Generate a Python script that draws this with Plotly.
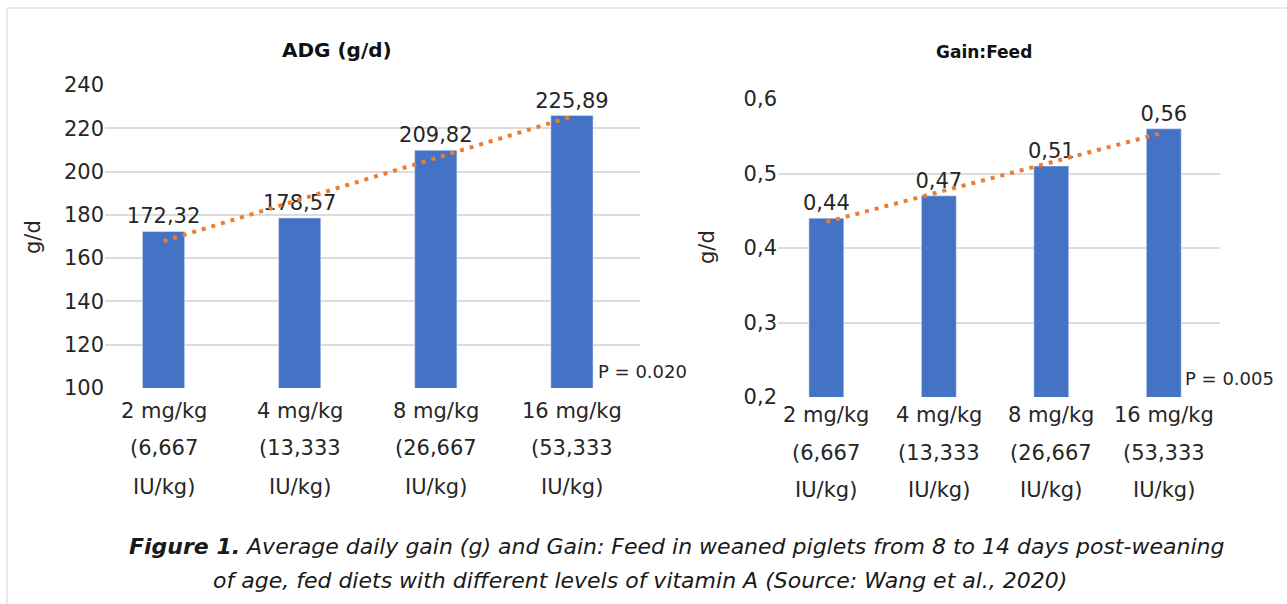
import numpy as np
import plotly.graph_objects as go

# Vitamin A levels (three label lines per category)
dose_mg = ["2 mg/kg", "4 mg/kg", "8 mg/kg", "16 mg/kg"]
dose_iu = ["(6,667", "(13,333", "(26,667", "(53,333"]
iu_unit = ["IU/kg)", "IU/kg)", "IU/kg)", "IU/kg)"]

# Measured responses
adg = [172.32, 178.57, 209.82, 225.89]
gain_feed = [0.44, 0.47, 0.51, 0.56]

p_adg = "P = 0.020"
p_gf = "P = 0.005"

W, H = 1287, 604
BAR = "#4472C4"
TREND = "#ED7D31"
GRID = "#DCDCDC"
TXT = "#262626"
FONT = "DejaVu Sans"


def py(pix):
    """pixel row -> paper y"""
    return 1 - pix / H


def px(pix):
    return pix / W


fig = go.Figure()

cats = list(range(len(dose_mg)))

# bars with value labels
for vals, xa, ya in [(adg, "x", "y"), (gain_feed, "x2", "y2")]:
    fig.add_trace(go.Bar(x=cats, y=vals, marker_color=BAR, width=0.31,
                         texttemplate="%{y:.2f}", textposition="outside",
                         constraintext="none",
                         textfont=dict(size=21, color=TXT, family=FONT),
                         cliponaxis=False, xaxis=xa, yaxis=ya, showlegend=False))

# linear trend lines
for vals, xa, ya in [(adg, "x", "y"), (gain_feed, "x2", "y2")]:
    k, b = np.polyfit(np.array(cats) + 1, vals, 1)
    fit = [k * (c + 1) + b for c in cats]
    fig.add_trace(go.Scatter(x=cats, y=fit, mode="lines",
                             line=dict(color=TREND, width=4, dash="4px,6px"),
                             xaxis=xa, yaxis=ya, showlegend=False, cliponaxis=False))

xcommon = dict(showline=False, zeroline=False, ticks="", showgrid=False,
               showticklabels=False, automargin=False, range=[-0.43, 3.5])
ycommon = dict(showline=False, zeroline=False, ticks="", automargin=False,
               gridcolor=GRID, gridwidth=1.5,
               tickfont=dict(size=21, color=TXT, family=FONT))

fig.update_layout(
    width=W, height=H, autosize=False,
    margin=dict(l=0, r=0, t=0, b=0, pad=0, autoexpand=False),
    paper_bgcolor="white", plot_bgcolor="white",
    separators=",.",
    xaxis=dict(domain=[px(105), px(640)], anchor="y", **xcommon),
    yaxis=dict(domain=[py(388), py(85)], range=[100, 240], dtick=20, anchor="x", **ycommon),
    xaxis2=dict(domain=[px(778), px(1220)], anchor="y2", **xcommon),
    yaxis2=dict(domain=[py(397), py(99)], range=[0.2, 0.6], dtick=0.1, anchor="x2", **ycommon),
)


def note(x, y, text, size, xanchor="center", angle=0, color=TXT, xref="paper"):
    return dict(x=x, y=py(y), xref=xref, yref="paper", text=text, textangle=angle,
                showarrow=False, xanchor=xanchor, yanchor="middle",
                font=dict(size=size, color=color, family=FONT))


ann = []
# category labels, three lines each
for xa, rows in [("x", (411, 448, 487)), ("x2", (415, 453, 490))]:
    for c in cats:
        for text, row in zip((dose_mg[c], dose_iu[c], iu_unit[c]), rows):
            ann.append(note(c, row, text, 21, xref=xa))

# chart titles
ann.append(note(px(337), 50, "<b>ADG (g/d)</b>", 20, color="#111"))
ann.append(note(px(984), 52, "<b>Gain:Feed</b>", 17, color="#111"))

# y axis titles
ann.append(note(px(33), 237, "g/d", 21, angle=-90))
ann.append(note(px(707), 247, "g/d", 21, angle=-90))

# significance notes
ann.append(note(px(596), 371, p_adg, 18, xanchor="left"))
ann.append(note(px(1183), 378, p_gf, 18, xanchor="left"))

# figure caption
cap1 = ("<b><i>Figure 1.</i></b><i> Average daily gain (g) and Gain: Feed in weaned piglets "
        "from 8 to 14 days post-weaning</i>")
cap2 = "<i>of age, fed diets with different levels of vitamin A (Source: Wang et al., 2020)</i>"
ann.append(note(px(676), 546, cap1, 22, color="#1a1a1a"))
ann.append(note(px(640), 580, cap2, 22, color="#1a1a1a"))

fig.update_layout(annotations=ann)

# outer frame lines
fig.add_shape(type="line", xref="paper", yref="paper", x0=px(7), x1=1, y0=py(8), y1=py(8),
              line=dict(color="#E2E2E2", width=1.5))
fig.add_shape(type="line", xref="paper", yref="paper", x0=px(7), x1=px(7), y0=0, y1=py(8),
              line=dict(color="#E2E2E2", width=1.5))

fig.write_html("out.html")
